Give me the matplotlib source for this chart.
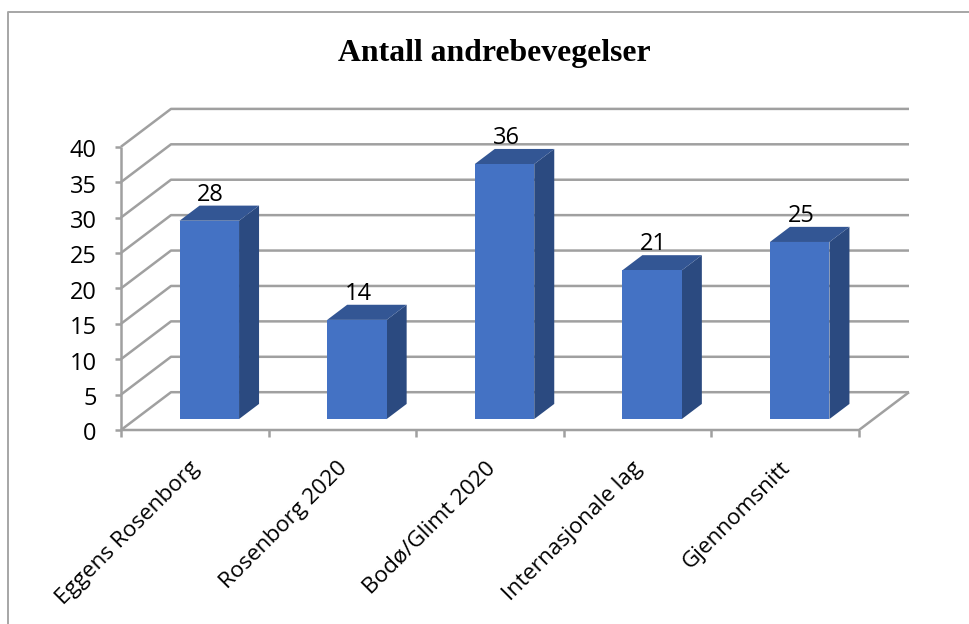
import matplotlib
matplotlib.use("Agg")
import matplotlib.pyplot as plt
from matplotlib.patches import Polygon

categories = ["Eggens Rosenborg", "Rosenborg 2020", "Bodø/Glimt 2020", "Internasjonale lag", "Gjennomsnitt"]
values = [28, 14, 36, 21, 25]
y_ticks = [0, 5, 10, 15, 20, 25, 30, 35, 40]

W, H = 970, 624
front_color = "#4472C4"
side_color = "#2B4A80"
top_color = "#335694"
grid_color = "#A0A0A0"

fig = plt.figure(figsize=(W / 100, H / 100), dpi=100)
ax = fig.add_axes([121 / W, 1 - 430 / H, (859 - 121) / W, (430 - 146.7) / H])
ax.set_xlim(0, len(categories))
ax.set_ylim(0, 40)
ax.axis("off")

# depth of the 3d box, in data units
dx = 50 / ((859 - 121) / 5)
dy = 37.8 / ((430 - 146.7) / 40)
n = len(categories)


def pt(x, y, d=0.0):
    return (x + d * dx, y + d * dy)


def line(points, lw=1.8):
    ax.plot([p[0] for p in points], [p[1] for p in points], color=grid_color, lw=lw,
            clip_on=False, solid_capstyle="butt", zorder=1)


for t in y_ticks:
    line([pt(0, t), pt(0, t, 1), pt(n, t, 1)])
    line([pt(0, t), pt(-0.04, t)])
    ax.annotate(str(t), xy=(0, t), xytext=(-17.5, -1), textcoords="offset points", ha="right", va="center_baseline",
                fontsize=17, family="Open Sans", color="black", annotation_clip=False)

line([pt(0, 0), pt(0, 40)])
line([pt(0, 0), pt(n, 0), pt(n, 0, 1)])
for i in range(n + 1):
    line([pt(i, 0), pt(i, -1.0)])

# bars sit in the middle of the depth
bar_w = 59.5 / ((859 - 121) / 5)
d0, d1 = 0.29, 0.69
for i, v in enumerate(values):
    x0 = i + 0.5 - bar_w / 2
    x1 = x0 + bar_w
    top = [pt(x0, v, d0), pt(x1, v, d0), pt(x1, v, d1), pt(x0, v, d1)]
    side = [pt(x1, 0, d0), pt(x1, v, d0), pt(x1, v, d1), pt(x1, 0, d1)]
    front = [pt(x0, 0, d0), pt(x1, 0, d0), pt(x1, v, d0), pt(x0, v, d0)]
    ax.add_patch(Polygon(side, closed=True, fc=side_color, ec="none", clip_on=False, zorder=3))
    ax.add_patch(Polygon(top, closed=True, fc=top_color, ec="none", clip_on=False, zorder=3))
    ax.add_patch(Polygon(front, closed=True, fc=front_color, ec="none", clip_on=False, zorder=3))
    ax.annotate(str(v), xy=(x0 + bar_w * 0.5, v), xytext=(16, 40), textcoords="offset pixels", ha="center",
                va="center_baseline", fontsize=17, family="Open Sans", color="black", zorder=4,
                annotation_clip=False)

for i, c in enumerate(categories):
    ax.annotate(c, xy=(i + 0.5, 0), xytext=(-4, -20), textcoords="offset points", rotation=45,
                rotation_mode="anchor", ha="right", va="top", fontsize=16.2, family="Open Sans",
                color="black", annotation_clip=False)

fig.text(494 / W, 1 - 53 / H, "Antall andrebevegelser", ha="center", va="center", fontsize=22.9,
         fontweight="bold", family="Liberation Serif", color="black")

# chart frame, only left and top are inside the picture
fig.add_artist(plt.Line2D([8 / W, 8 / W, 1], [0, 1 - 12 / H, 1 - 12 / H], transform=fig.transFigure,
                          color="#A6A6A6", lw=1.4))

fig.savefig("out.png", dpi=100)
